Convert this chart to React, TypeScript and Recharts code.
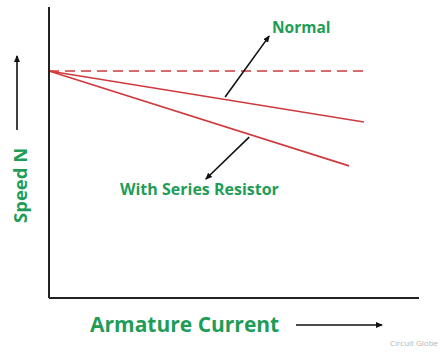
import { LineChart, Line, XAxis, YAxis, ReferenceLine } from 'recharts';

// armature current (x) and speed (y), both on a 0-100 scale
const noLoadCurrent = [0, 85.7];
const noLoadSpeed = [78, 78];

const normalCurrent = [0, 85.1];
const normalSpeed = [78, 60.5];

const seriesCurrent = [0, 81.1];
const seriesSpeed = [78, 45.4];

// pointer arrows for the two annotations [x1, y1, x2, y2]
const normalPointer = [47.6, 69.1, 59.5, 90.0];
const seriesPointer = [54.1, 55.3, 42.4, 40.9];

const toRows = (xs: number[], ys: number[]) => xs.map((x, i) => ({ current: x, speed: ys[i] }));

const GREEN = '#1f9d58';
const RED = '#cf3a3e';
const FONT = '"Open Sans", Arial, sans-serif';

const arrowShape = (p: any) => (
  <line x1={p.x1} y1={p.y1} x2={p.x2} y2={p.y2} stroke="#111" strokeWidth={1.6} markerEnd="url(#head)" />
);

export default function App() {
  return (
    <div style={{ position: 'absolute', left: 0, top: 0, width: 447, height: 360, background: '#fff' }}>
      <svg width={0} height={0} style={{ position: 'absolute' }}>
        <defs>
          <marker id="head" markerWidth="8" markerHeight="8" refX="6" refY="4" orient="auto" markerUnits="userSpaceOnUse">
            <path d="M0,1 L7,4 L0,7 Z" fill="#111" />
          </marker>
        </defs>
      </svg>
      <LineChart width={447} height={360} margin={{ top: 7, right: 28, left: 48, bottom: 61 }}>
        <XAxis
          type="number"
          dataKey="current"
          domain={[0, 100]}
          height={1}
          tick={false}
          tickLine={false}
          axisLine={{ stroke: '#222', strokeWidth: 2 }}
        />
        <YAxis
          type="number"
          dataKey="speed"
          domain={[0, 100]}
          width={1}
          tick={false}
          tickLine={false}
          axisLine={{ stroke: '#222', strokeWidth: 2 }}
        />
        <Line
          data={toRows(noLoadCurrent, noLoadSpeed)}
          dataKey="speed"
          type="linear"
          stroke={RED}
          strokeWidth={1.6}
          strokeDasharray="10 6"
          dot={false}
          isAnimationActive={false}
        />
        <Line
          data={toRows(normalCurrent, normalSpeed)}
          dataKey="speed"
          type="linear"
          stroke={RED}
          strokeWidth={1.6}
          dot={false}
          isAnimationActive={false}
        />
        <Line
          data={toRows(seriesCurrent, seriesSpeed)}
          dataKey="speed"
          type="linear"
          stroke={RED}
          strokeWidth={1.6}
          dot={false}
          isAnimationActive={false}
        />
        <ReferenceLine
          segment={[{ x: normalPointer[0], y: normalPointer[1] }, { x: normalPointer[2], y: normalPointer[3] }]}
          shape={arrowShape}
        />
        <ReferenceLine
          segment={[{ x: seriesPointer[0], y: seriesPointer[1] }, { x: seriesPointer[2], y: seriesPointer[3] }]}
          shape={arrowShape}
        />
      </LineChart>
      <svg width={447} height={360} style={{ position: 'absolute', left: 0, top: 0, pointerEvents: 'none' }}>
        <text x={272} y={33} fill={GREEN} fontFamily={FONT} fontWeight={700} fontSize={15.5}>
          Normal
        </text>
        <text x={120} y={195} fill={GREEN} fontFamily={FONT} fontWeight={700} fontSize={16}>
          With Series Resistor
        </text>
        <text x={90} y={332} fill={GREEN} fontFamily={FONT} fontWeight={700} fontSize={21}>
          Armature Current
        </text>
        <line x1={296} y1={325} x2={382} y2={325} stroke="#111" strokeWidth={1.6} markerEnd="url(#head)" />
        <text
          transform="translate(27,223) rotate(-90)"
          fill={GREEN}
          fontFamily={FONT}
          fontWeight={700}
          fontSize={18.5}
        >
          Speed N
        </text>
        <line x1={17} y1={130} x2={17} y2={56} stroke="#111" strokeWidth={1.6} markerEnd="url(#head)" />
        <text x={390} y={346} fill="#b5b5b5" fontFamily={FONT} fontSize={8}>
          Circuit Globe
        </text>
      </svg>
    </div>
  );
}
